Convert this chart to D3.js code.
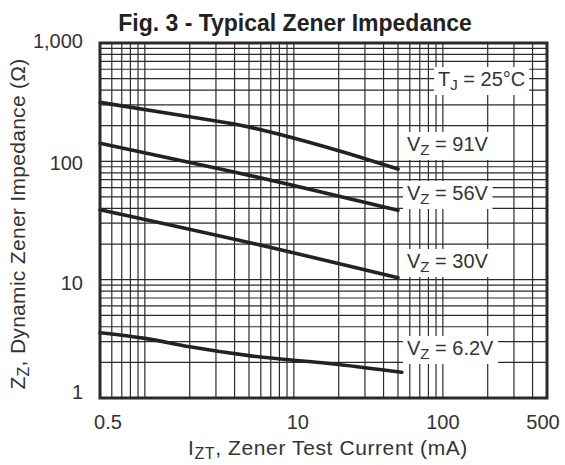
<!DOCTYPE html>
<html><head><meta charset="utf-8">
<script src="https://cdn.jsdelivr.net/npm/d3@7"></script>
<style>
body{margin:0;background:#fff}
text{font-family:"Liberation Sans",Arial,Helvetica,sans-serif;fill:#333}
</style>
</head><body>
<svg id="chart" width="565" height="465"></svg>
<script>
// ---- data ----
const titleText = "Fig. 3 - Typical Zener Impedance";
const xDomain = [0.5, 500];
const yDomain = [1, 1000];
const xTickValues = [0.5, 10, 100, 500];
const xTickLabels = ["0.5", "10", "100", "500"];
const yTickValues = [1, 10, 100, 1000];
const yTickLabels = ["1", "10", "100", "1,000"];
const seriesLabels = ["91V", "56V", "30V", "6.2V"];
const current91 = [0.5, 2, 4.3, 20, 50];
const impedance91 = [315, 238, 203, 123, 86];
const current56 = [0.5, 3.7, 50];
const impedance56 = [142, 83, 38.5];
const current30 = [0.5, 8, 50];
const impedance30 = [39, 18, 10.4];
const current62 = [0.5, 1, 2, 5, 20, 53];
const impedance62 = [3.56, 3.19, 2.71, 2.28, 1.92, 1.65];

// ---- drawing ----
const svg = d3.select("#chart");
svg.append("rect").attr("width", 565).attr("height", 465).attr("fill", "#fff");
const L = 100, R = 547, T = 43, B = 398;
const x = d3.scaleLog().domain(xDomain).range([L, R]);
const y = d3.scaleLog().domain(yDomain).range([B, T]);

// grid
const grid = svg.append("g").attr("stroke", "#2b2b2b").attr("stroke-width", 1.2);
x.ticks().filter(v => v > xDomain[0] && v < xDomain[1]).forEach(v => {
  grid.append("line").attr("x1", x(v)).attr("x2", x(v)).attr("y1", T).attr("y2", B);
});
y.ticks().filter(v => v > yDomain[0] && v < yDomain[1]).forEach(v => {
  grid.append("line").attr("y1", y(v)).attr("y2", y(v)).attr("x1", L).attr("x2", R);
});

// curves
const line = d3.line().x(d => x(d[0])).y(d => y(d[1])).curve(d3.curveMonotoneX);
const series = [
  d3.zip(current91, impedance91),
  d3.zip(current56, impedance56),
  d3.zip(current30, impedance30),
  d3.zip(current62, impedance62)
];
svg.append("g").selectAll("path").data(series).join("path")
  .attr("d", line)
  .attr("fill", "none").attr("stroke", "#222")
  .attr("stroke-width", 3.6).attr("stroke-linecap", "round").attr("stroke-linejoin", "round");

// frame
svg.append("rect").attr("x", L).attr("y", T).attr("width", R - L).attr("height", B - T)
  .attr("fill", "none").attr("stroke", "#2a2a2a").attr("stroke-width", 3);

// in-plot labels with white boxes
function boxedLabel(px, py, main, sub, rest) {
  const g = svg.append("g");
  const t = g.append("text").attr("x", px).attr("y", py).attr("font-size", 20);
  t.append("tspan").text(main);
  t.append("tspan").attr("font-size", 15).attr("dy", 4).text(sub);
  t.append("tspan").attr("dy", -4).text(rest);
  const bb = t.node().getBBox();
  g.insert("rect", "text").attr("x", bb.x - 4).attr("y", bb.y - 1)
    .attr("width", bb.width + 8).attr("height", bb.height + 3).attr("fill", "#fff");
}
boxedLabel(438, 86, "T", "J", " = 25\u00B0C");
const labelBaselines = [151, 200, 268, 355];
seriesLabels.forEach((s, i) => boxedLabel(407, labelBaselines[i], "V", "Z", " = " + s));

// tick labels
const xOff = [8, 4, 0, -4];
svg.append("g").selectAll("text").data(xTickValues).join("text")
  .attr("x", (d, i) => x(d) + xOff[i]).attr("y", 429).attr("text-anchor", "middle")
  .attr("font-size", 20).text((d, i) => xTickLabels[i]);
const yOff = [-6, 3, 2, -2];
svg.append("g").selectAll("text").data(yTickValues).join("text")
  .attr("x", 83).attr("y", (d, i) => y(d) + yOff[i] + 7).attr("text-anchor", "end")
  .attr("font-size", 20).text((d, i) => yTickLabels[i]);

// title
svg.append("text").attr("x", 295).attr("y", 31).attr("text-anchor", "middle")
  .attr("font-size", 23).attr("font-weight", "bold").style("fill", "#222")
  .text(titleText);

// x axis title
const xt = svg.append("text").attr("x", 328).attr("y", 455).attr("text-anchor", "middle")
  .attr("font-size", 21).attr("letter-spacing", 0.6);
xt.append("tspan").text("I");
xt.append("tspan").attr("font-size", 16).attr("dy", 4).text("ZT");
xt.append("tspan").attr("dy", -4).text(", Zener Test Current (mA)");

// y axis title
const yt = svg.append("text").attr("transform", "translate(25,224) rotate(-90)")
  .attr("text-anchor", "middle").attr("font-size", 21).attr("letter-spacing", 0.3);
yt.append("tspan").text("Z");
yt.append("tspan").attr("font-size", 16).attr("dy", 4).text("Z");
yt.append("tspan").attr("dy", -4).text(", Dynamic Zener Impedance (\u03A9)");
</script>
</body></html>
